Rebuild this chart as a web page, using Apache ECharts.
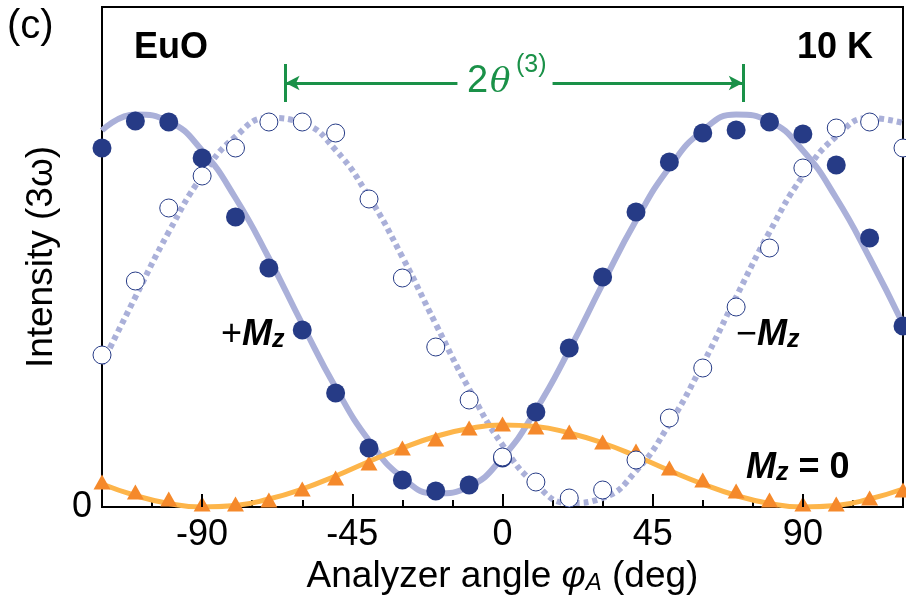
<!DOCTYPE html>
<html>
<head>
<meta charset="utf-8">
<script src="https://cdn.jsdelivr.net/npm/echarts@6/dist/echarts.min.js"></script>
<style>
  html, body { margin: 0; padding: 0; background: #fff; }
  #chart { width: 906px; height: 601px; }
</style>
</head>
<body>
<div id="chart"></div>
<script>
// 分析器角度 (deg)
const angles = [-120, -110, -100, -90, -80, -70, -60, -50, -40, -30, -20, -10, 0,
  10, 20, 30, 40, 50, 60, 70, 80, 90, 100, 110, 120];

// +Mz 测量点 (实心圆)
const plusMz = [71.8, 77.2, 77.0, 69.8, 58.0, 47.8, 35.4, 22.8, 11.8, 5.4, 3.2, 4.4, 9.8,
  19.0, 31.8, 46.0, 59.0, 69.0, 74.8, 75.4, 77.0, 74.6, 68.4, 53.8, 36.2];
// -Mz 测量点 (空心圆)
const minusMz = [30.4, 45.2, 59.8, 66.2, 71.8, 77.0, 77.0, 74.8, 61.6, 45.8, 32.0, 21.4, 10.0,
  5.0, 1.8, 3.4, 9.4, 17.8, 27.8, 40.0, 51.8, 67.8, 75.8, 77.0, 71.8];
// Mz = 0 测量点 (三角)
const zeroMz = [5.0, 3.0, 1.6, 0.6, 0.6, 1.4, 3.6, 5.8, 8.8, 11.8, 13.6, 15.8, 16.6,
  16.0, 15.0, 13.0, 11.2, 7.8, 5.4, 3.2, 1.4, 0.6, 0.6, 1.8, 3.4];

// 拟合曲线
const fitPlus = [75.3, 78.5, 77.1, 71.3, 61.8, 49.8, 36.6, 23.9, 13.3, 5.9, 2.7, 4.1, 9.9,
  19.4, 31.4, 44.6, 57.3, 67.9, 75.3, 78.5, 77.1, 71.3, 61.8, 49.8, 36.6];
const fitMinus = [28.6, 42.0, 55.0, 66.2, 74.1, 77.8, 76.8, 71.4, 62.0, 50.0, 36.6, 23.6, 12.4,
  4.5, 0.8, 1.8, 7.2, 16.6, 28.6, 42.0, 55.0, 66.2, 74.1, 77.8, 76.8];
const fitZero = [4.6, 2.3, 0.7, 0.0, 0.3, 1.6, 3.6, 6.2, 9.1, 11.8, 14.1, 15.7, 16.4,
  16.1, 14.8, 12.8, 10.2, 7.3, 4.6, 2.3, 0.7, 0.0, 0.3, 1.6, 3.6];

const majorTicks = [-90, -45, 0, 45, 90];
// 2θ(3) 箭头两端
const arrowLeft = -65;
const arrowRight = 72;
const arrowY = 84.8;

const FONT = 'Liberation Sans';
const NAVY = '#263b86';
const LAVENDER = '#aab0d9';
const GREEN = '#1a9148';

const pairs = (ys) => angles.map((a, i) => [a, ys[i]]);

// 带下标的 M_z 标签
const mzRich = {
  a: { fontFamily: FONT, fontSize: 36, fill: '#000', lineHeight: 40, verticalAlign: 'bottom' },
  b: { fontFamily: FONT, fontSize: 36, fontWeight: 'bold', fill: '#000', lineHeight: 40, verticalAlign: 'bottom' },
  m: { fontFamily: FONT, fontSize: 36, fontWeight: 'bold', fontStyle: 'italic', fill: '#000', lineHeight: 40, verticalAlign: 'bottom' },
  s: { fontFamily: FONT, fontSize: 25, fontWeight: 'bold', fontStyle: 'italic', fill: '#000', lineHeight: 22, verticalAlign: 'bottom' }
};

const myChart = echarts.init(document.getElementById('chart'));

const option = {
  animation: false,
  grid: {
    left: 102, right: -2, top: 7, bottom: 94,
    show: true, borderColor: '#000', borderWidth: 2
  },
  xAxis: {
    type: 'value',
    min: -120, max: 120, interval: 15,
    axisLine: { lineStyle: { color: '#000', width: 2 } },
    axisTick: { inside: true, length: 7, lineStyle: { color: '#000', width: 2 } },
    splitLine: { show: false },
    axisLabel: {
      color: '#000', fontFamily: FONT, fontSize: 36, margin: 10,
      formatter: (v) => (majorTicks.indexOf(v) !== -1 ? String(v) : '')
    },
    name: 'Analyzer angle {i|φ}{s|A} (deg)',
    nameLocation: 'middle',
    nameGap: 44,
    nameTextStyle: {
      color: '#000', fontFamily: FONT, fontSize: 37,
      rich: {
        i: { fontFamily: FONT, fontSize: 37, fontStyle: 'italic', color: '#000' },
        s: { fontFamily: FONT, fontSize: 24, fontStyle: 'italic', color: '#000', verticalAlign: 'bottom', lineHeight: 28 }
      }
    }
  },
  yAxis: {
    type: 'value',
    min: 0, max: 100, interval: 100,
    axisLine: { show: true, onZero: false, lineStyle: { color: '#000', width: 2 } },
    axisTick: { show: false },
    splitLine: { show: false },
    axisLabel: {
      color: '#000', fontFamily: FONT, fontSize: 36, margin: 10,
      formatter: (v) => (v === 0 ? '0' : '')
    },
    name: 'Intensity (3ω)',
    nameLocation: 'middle',
    nameRotate: 90,
    nameGap: 42,
    nameTextStyle: { color: '#000', fontFamily: FONT, fontSize: 37 }
  },
  series: [
    {
      name: 'fit -Mz', type: 'line', data: pairs(fitMinus), smooth: 0.5,
      showSymbol: false, z: 1,
      lineStyle: { color: LAVENDER, width: 6, type: [5, 4] }
    },
    {
      name: 'fit +Mz', type: 'line', data: pairs(fitPlus), smooth: 0.5,
      showSymbol: false, z: 2,
      lineStyle: { color: LAVENDER, width: 6 }
    },
    {
      name: 'fit 0', type: 'line', data: pairs(fitZero), smooth: 0.5,
      showSymbol: false, z: 3,
      lineStyle: { color: '#fdb54a', width: 5 },
      markLine: {
        silent: true, symbol: ['none', 'none'], label: { show: false },
        lineStyle: { color: '#000', width: 2, type: 'solid' },
        data: majorTicks.map((t) => [{ coord: [t, 0] }, { coord: [t, 2.6] }])
      }
    },
    {
      name: 'Mz=0', type: 'scatter', data: pairs(zeroMz), z: 4,
      symbol: 'triangle', symbolSize: [17, 15],
      itemStyle: { color: '#f5892b', opacity: 1 }
    },
    {
      name: '+Mz', type: 'scatter', data: pairs(plusMz), z: 5,
      symbol: 'circle', symbolSize: 19,
      itemStyle: { color: NAVY, opacity: 1 }
    },
    {
      name: '-Mz', type: 'scatter', data: pairs(minusMz), z: 6,
      symbol: 'circle', symbolSize: 18,
      itemStyle: { color: '#fff', borderColor: NAVY, borderWidth: 1, opacity: 1 },
      markLine: {
        silent: true, label: { show: false },
        lineStyle: { color: GREEN, width: 3, type: 'solid' },
        symbolSize: [11, 14],
        data: [
          [{ coord: [-13.5, arrowY], symbol: 'none' }, { coord: [arrowLeft, arrowY], symbol: 'arrow' }],
          [{ coord: [15, arrowY], symbol: 'none' }, { coord: [arrowRight, arrowY], symbol: 'arrow' }],
          [{ coord: [arrowLeft, 88.6], symbol: 'none' }, { coord: [arrowLeft, 81], symbol: 'none' }],
          [{ coord: [arrowRight, 88.6], symbol: 'none' }, { coord: [arrowRight, 81], symbol: 'none' }]
        ]
      }
    }
  ],
  graphic: [
    { type: 'text', x: 7, y: 27, style: { text: '(c)', fontFamily: FONT, fontSize: 40, fill: '#000', verticalAlign: 'middle' } },
    { type: 'text', x: 134, y: 48, style: { text: 'EuO', fontFamily: FONT, fontSize: 36, fontWeight: 'bold', fill: '#000', verticalAlign: 'middle' } },
    { type: 'text', x: 797, y: 48, style: { text: '10 K', fontFamily: FONT, fontSize: 36, fontWeight: 'bold', fill: '#000', verticalAlign: 'middle' } },
    { type: 'text', x: 467, y: 82, style: { text: '2', fontFamily: FONT, fontSize: 38, fill: GREEN, verticalAlign: 'middle' } },
    { type: 'text', x: 490, y: 83, style: { text: 'θ', fontFamily: 'DejaVu Serif', fontStyle: 'italic', fontSize: 34, fill: GREEN, verticalAlign: 'middle' } },
    { type: 'text', x: 516, y: 65, style: { text: '(3)', fontFamily: FONT, fontSize: 25, fill: GREEN, verticalAlign: 'middle' } },
    { type: 'text', x: 221, y: 333, style: { text: '{a|+}{m|M}{s|z}', verticalAlign: 'middle', rich: mzRich } },
    { type: 'text', x: 736, y: 333, style: { text: '{a|−}{m|M}{s|z}', verticalAlign: 'middle', rich: mzRich } },
    { type: 'text', x: 746, y: 466, style: { text: '{m|M}{s|z}{b| = 0}', verticalAlign: 'middle', rich: mzRich } }
  ]
};

myChart.setOption(option);
</script>
</body>
</html>
